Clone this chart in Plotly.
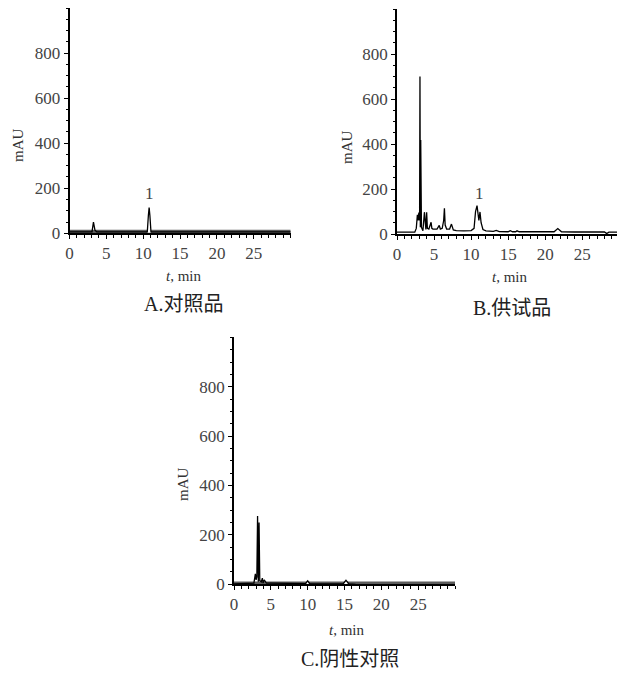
import plotly.graph_objects as go

W, H = 625, 673
OFF = 8  # default page body margin of the browser

# ---------------- data ----------------
# Panel A: reference substance (对照品)
tA = [0, 3.05, 3.25, 3.45, 3.7, 10.55, 10.7, 10.8, 10.9, 11.05, 30]
vA = [6, 6, 50, 14, 6, 6, 80, 114, 80, 6, 6]
bandA_t = [0, 30]
bandA_v = [5, 5]
peakA_t = [10.55, 10.8, 11.05]
peakA_v = [2, 114, 2]

# Panel B: test sample (供试品)
tB = [0, 2.4, 2.6, 2.75, 2.85, 2.95, 3.05, 3.1, 3.15, 3.2, 3.3, 3.5, 3.7, 3.8, 3.9,
      4.0, 4.1, 4.3, 4.6, 4.7, 4.85, 5.4, 5.7, 5.85, 6.1, 6.3, 6.4, 6.5, 6.7, 7.1,
      7.35, 7.6, 8.0, 9.0, 10.0, 10.4, 10.6, 10.8, 10.95, 11.05, 11.2, 11.35, 11.6,
      12.0, 13.0, 13.4, 13.8, 15.0, 15.3, 15.6, 16.0, 16.2, 16.5, 18.0, 21.2, 21.7,
      22.2, 24.0, 28.0, 28.3, 28.6, 30.5]
vB = [8, 8, 25, 85, 60, 95, 60, 700, 30, 418, 30, 15, 97, 25, 20,
      97, 25, 22, 52, 25, 22, 22, 38, 22, 25, 60, 114, 40, 22, 22,
      44, 18, 15, 14, 15, 25, 100, 126, 70, 60, 98, 50, 20,
      14, 12, 16, 11, 10, 15, 10, 10, 14, 10, 9, 10, 24,
      10, 9, 9, 2, 8, 8]

# Panel C: negative control (阴性对照)
tC = [0, 2.7, 2.9, 3.0, 3.1, 3.2, 3.3, 3.4, 3.5, 3.7, 3.85, 3.95, 4.1, 4.4, 5.0,
      6.0, 7.0, 9.7, 10.0, 10.3, 14.8, 15.2, 15.6, 16.5, 30]
vC = [2, 5, 42, 18, 30, 276, 10, 250, 15, 10, 25, 5, 18, 5, 5,
      4, 3, 3, 14, 2, 2, 16, 2, 0, -2]
bandC_t = [0, 30]
bandC_v = [1, 1]
peakC1_t = [9.75, 10.0, 10.25]
peakC1_v = [-3, 14, -3]
peakC2_t = [14.85, 15.2, 15.55]
peakC2_v = [-3, 16, -3]

x_ticks = [0, 5, 10, 15, 20, 25]
y_ticks = [0, 200, 400, 600, 800]

# ---------------- figure ----------------
SERIF = "Liberation Serif, Times New Roman, serif"
CJK = "Liberation Serif, Noto Sans CJK SC, serif"
BAND = "#5c5c5c"
FW, FH = W - OFF, H - OFF

fig = go.Figure()

def line(x, y, xa, ya, color="black", width=1, fill=None):
    fig.add_trace(go.Scatter(
        x=x, y=y, mode="lines", xaxis=xa, yaxis=ya,
        line=dict(color=color, width=width),
        fill=fill, fillcolor="white" if fill else None,
        hoverinfo="skip", showlegend=False, cliponaxis=False))

# A
line(bandA_t, bandA_v, "x", "y", BAND, 5)
line(peakA_t, peakA_v, "x", "y", "white", 0.1, fill="toself")
line(tA, vA, "x", "y", "black", 1.3)
# B
line(tB, vB, "x2", "y2", "black", 1.3)
# C
line(bandC_t, bandC_v, "x3", "y3", BAND, 5)
line(peakC1_t, peakC1_v, "x3", "y3", "white", 0.1, fill="toself")
line(peakC2_t, peakC2_v, "x3", "y3", "white", 0.1, fill="toself")
line(tC, vC, "x3", "y3", "black", 1.3)

def clamp(v):
    return min(1.0, max(0.0, v))

def px(x):
    return (x - OFF) / FW

def py(y):
    return 1 - (y - OFF) / FH

def xax(domain, rng, anchor):
    return dict(domain=[clamp(d) for d in domain], range=rng, anchor=anchor, automargin=False,
                showline=True, linecolor="black", linewidth=1.5,
                showgrid=False, zeroline=False,
                tickmode="array", tickvals=x_ticks,
                ticks="outside", ticklen=4, tickwidth=1, tickcolor="black",
                minor=dict(dtick=1, tick0=0, ticks="outside", ticklen=3,
                           tickwidth=1, tickcolor="black"),
                tickfont=dict(family=SERIF, size=17, color="#444"),
                fixedrange=True)

def yax(domain, anchor):
    return dict(domain=[clamp(d) for d in domain], range=[0, 1000], anchor=anchor, automargin=False,
                showline=True, linecolor="black", linewidth=1.5,
                showgrid=False, zeroline=False,
                tickmode="array", tickvals=y_ticks,
                ticks="outside", ticklen=4, tickwidth=1, tickcolor="black",
                minor=dict(dtick=50, tick0=0, ticks="outside", ticklen=2,
                           tickwidth=1, tickcolor="black"),
                tickfont=dict(family=SERIF, size=17, color="#444"),
                fixedrange=True)

fig.update_layout(
    width=FW, height=FH,
    margin=dict(l=0, r=0, t=0, b=0),
    paper_bgcolor="white", plot_bgcolor="white",
    showlegend=False,
    xaxis=xax([px(69.5), px(290.7)], [0, 30], "y"),
    yaxis=yax([py(233.3), py(8)], "x"),
    xaxis2=xax([px(397), px(623)], [0, 30.5], "y2"),
    yaxis2=yax([py(234), py(9)], "x2"),
    xaxis3=xax([px(234), px(455)], [0, 30], "y3"),
    yaxis3=yax([py(584.3), py(337.3)], "x3"),
)

ann = []
def text(x, y, s, size, family=SERIF, angle=0, color="#333"):
    ann.append(dict(x=px(x), y=py(y), xref="paper", yref="paper", text=s,
                    showarrow=False, xanchor="center", yanchor="middle",
                    textangle=angle, font=dict(family=family, size=size, color=color)))

# y-axis titles
text(18, 145, "mAU", 15, angle=-90)
text(347, 147, "mAU", 15, angle=-90)
text(183, 484, "mAU", 15, angle=-90)
# x-axis titles
text(184, 276, "<i>t</i>, min", 15)
text(510, 277, "<i>t</i>, min", 15)
text(347, 630, "<i>t</i>, min", 15)
# captions
text(183, 304, "A.对照品", 20, family=CJK, color="#222")
text(512, 308, "B.供试品", 20, family=CJK, color="#222")
text(350, 659, "C.阴性对照", 20, family=CJK, color="#222")

fig.update_layout(annotations=ann)

# peak labels "1" in data coords
fig.add_annotation(x=10.8, y=176, xref="x", yref="y", text="1", showarrow=False,
                   font=dict(family=SERIF, size=17, color="#444"))
fig.add_annotation(x=11.2, y=181, xref="x2", yref="y2", text="1", showarrow=False,
                   font=dict(family=SERIF, size=17, color="#444"))

fig.write_html("out.html")
